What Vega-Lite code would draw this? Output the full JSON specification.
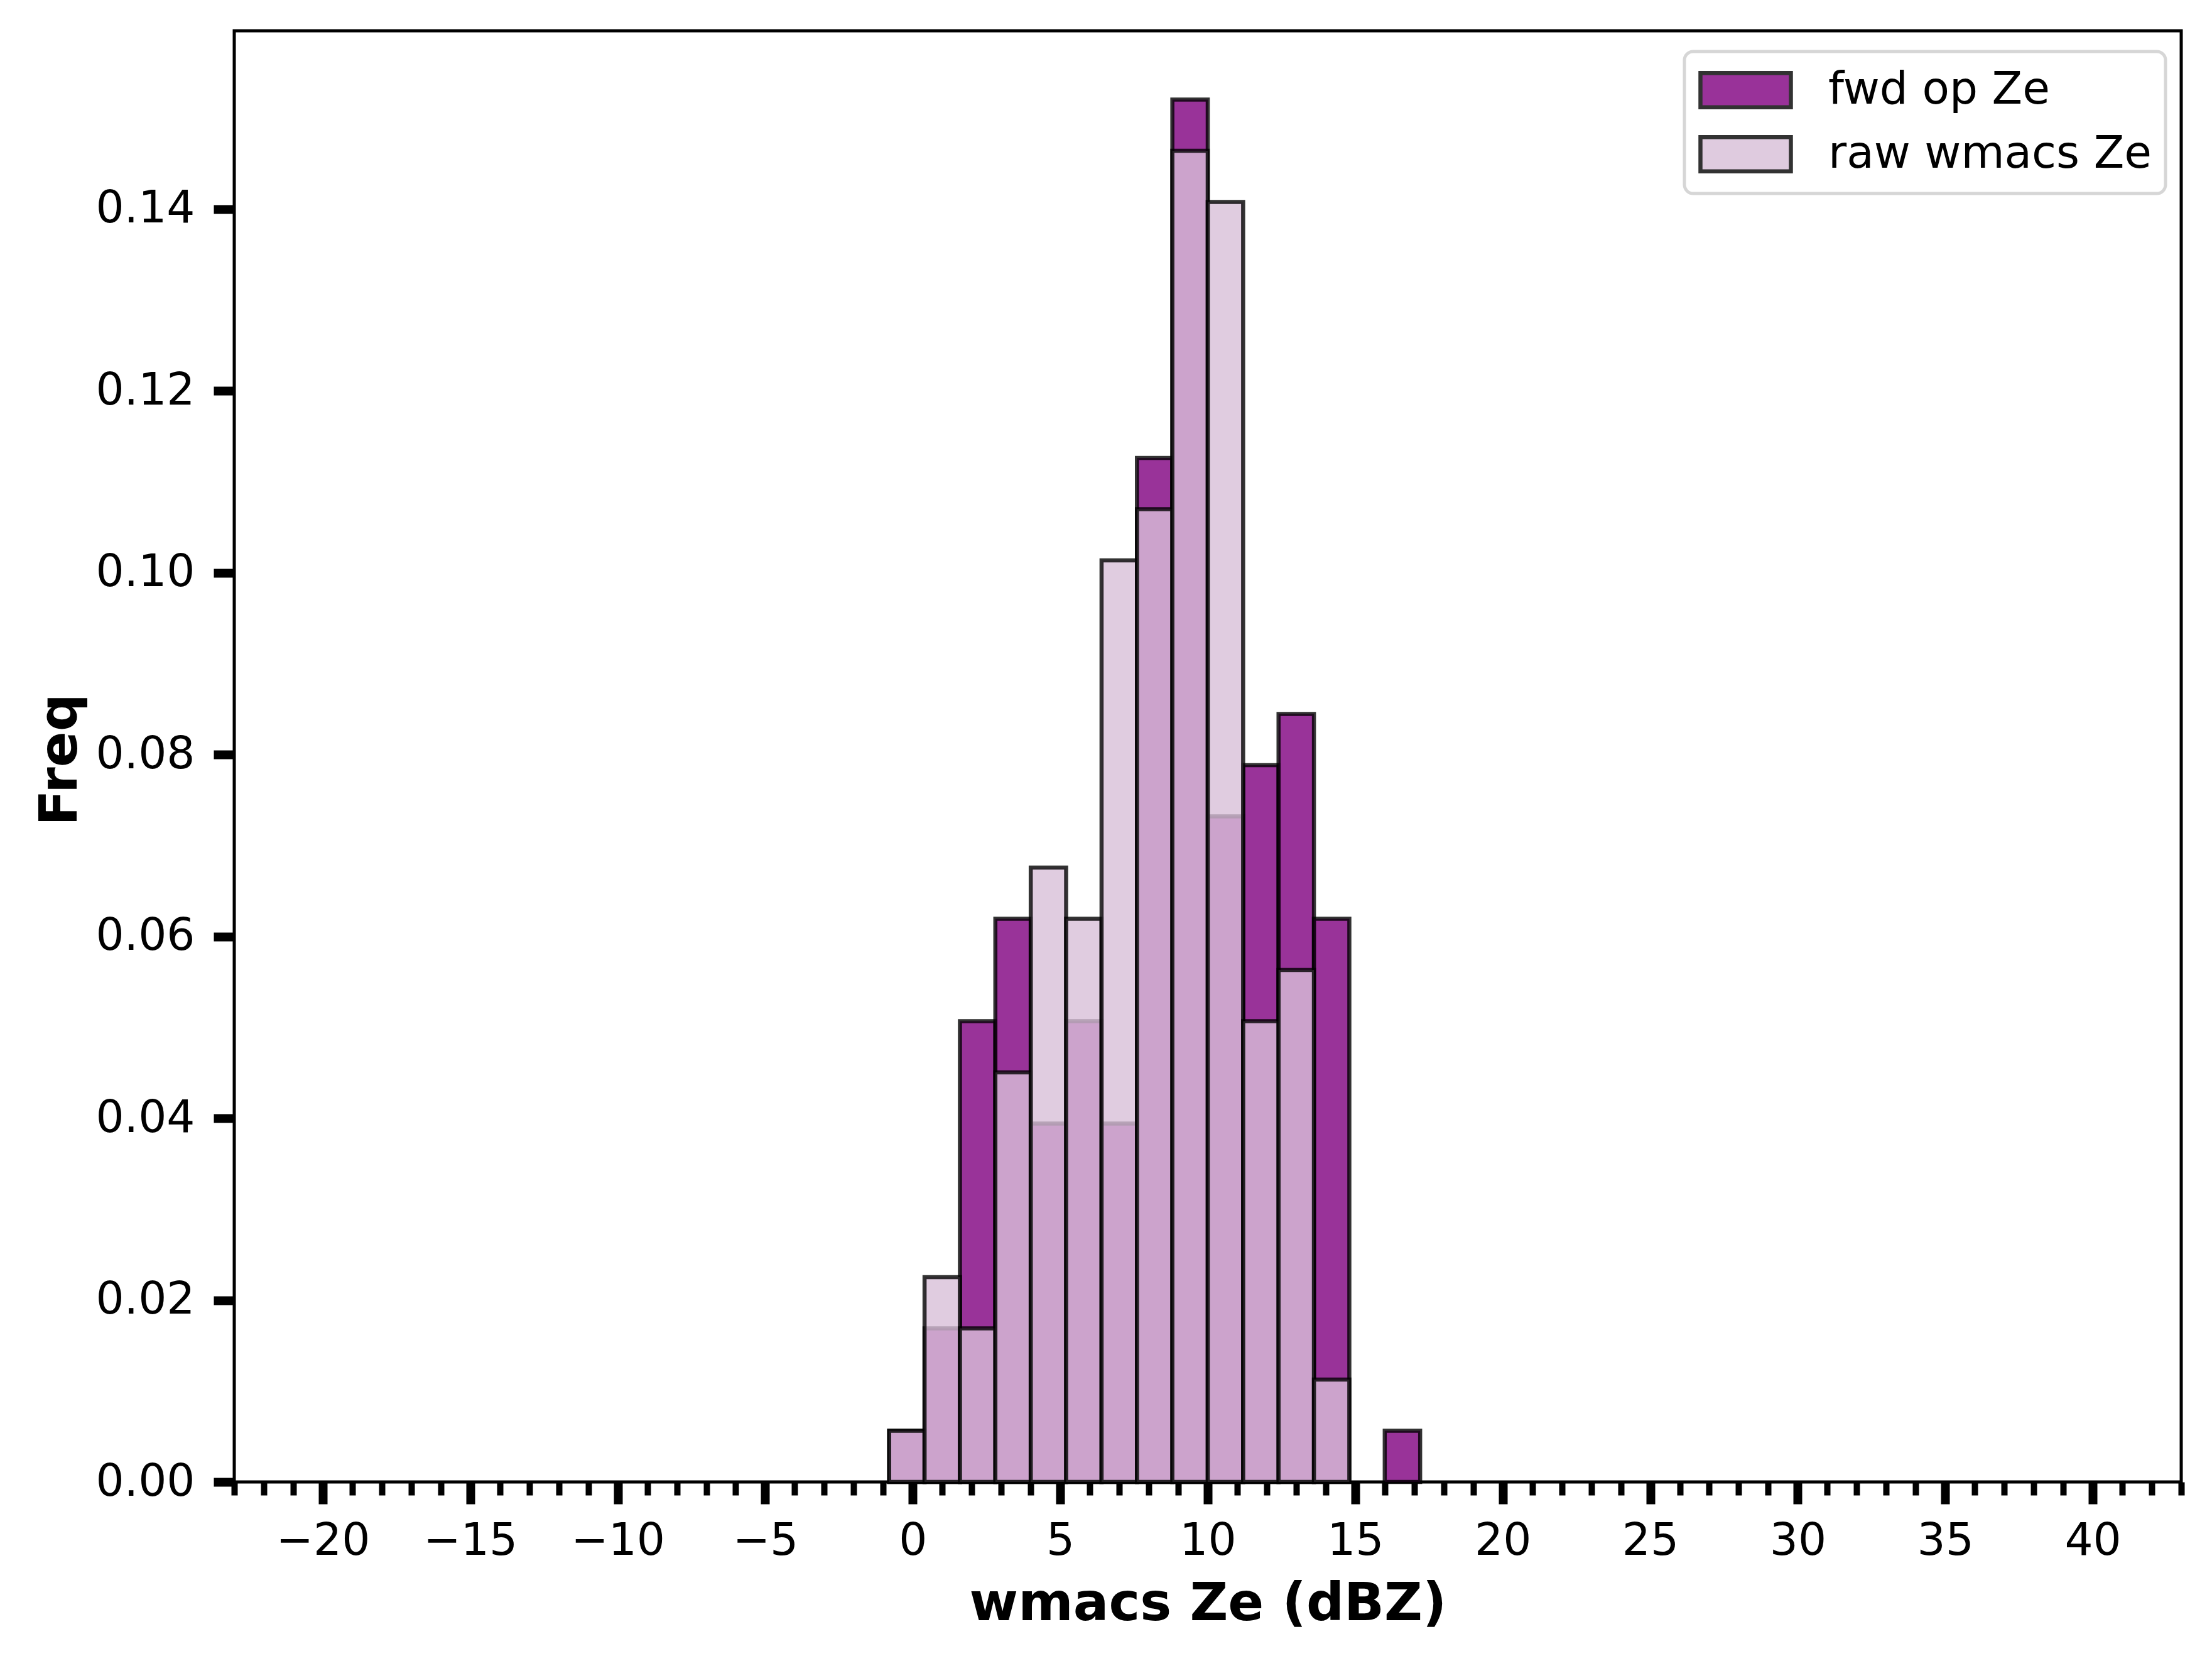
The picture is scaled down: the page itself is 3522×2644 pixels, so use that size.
{
  "$schema": "https://vega.github.io/schema/vega-lite/v6.json",
  "description": "Histogram of fwd op Ze vs raw wmacs Ze",
  "autosize": "none",
  "width": 3100,
  "height": 2310,
  "padding": {"left": 373, "top": 49, "right": 49, "bottom": 285},
  "background": "white",
  "config": {
    "font": "DejaVu Sans",
    "view": {"stroke": "black", "strokeWidth": 5},
    "axis": {
      "grid": false,
      "domain": false,
      "labelFont": "DejaVu Sans",
      "labelFontSize": 71,
      "labelColor": "black",
      "tickColor": "black",
      "titleFont": "DejaVu Sans",
      "titleFontSize": 84,
      "titleFontWeight": "bold",
      "titleColor": "black"
    }
  },
  "data": {
    "values": [
      {"s": "fwd op Ze", "x0": -0.8, "x1": 0.4, "f": 0.00563},
      {"s": "fwd op Ze", "x0": 0.4, "x1": 1.6, "f": 0.01689},
      {"s": "fwd op Ze", "x0": 1.6, "x1": 2.8, "f": 0.05068},
      {"s": "fwd op Ze", "x0": 2.8, "x1": 4.0, "f": 0.06194},
      {"s": "fwd op Ze", "x0": 4.0, "x1": 5.2, "f": 0.03941},
      {"s": "fwd op Ze", "x0": 5.2, "x1": 6.4, "f": 0.05068},
      {"s": "fwd op Ze", "x0": 6.4, "x1": 7.6, "f": 0.03941},
      {"s": "fwd op Ze", "x0": 7.6, "x1": 8.8, "f": 0.11261},
      {"s": "fwd op Ze", "x0": 8.8, "x1": 10.0, "f": 0.15203},
      {"s": "fwd op Ze", "x0": 10.0, "x1": 11.2, "f": 0.0732},
      {"s": "fwd op Ze", "x0": 11.2, "x1": 12.4, "f": 0.07883},
      {"s": "fwd op Ze", "x0": 12.4, "x1": 13.6, "f": 0.08446},
      {"s": "fwd op Ze", "x0": 13.6, "x1": 14.8, "f": 0.06194},
      {"s": "fwd op Ze", "x0": 16.0, "x1": 17.2, "f": 0.00563},
      {"s": "raw wmacs Ze", "x0": -0.8, "x1": 0.4, "f": 0.00563},
      {"s": "raw wmacs Ze", "x0": 0.4, "x1": 1.6, "f": 0.02252},
      {"s": "raw wmacs Ze", "x0": 1.6, "x1": 2.8, "f": 0.01689},
      {"s": "raw wmacs Ze", "x0": 2.8, "x1": 4.0, "f": 0.04505},
      {"s": "raw wmacs Ze", "x0": 4.0, "x1": 5.2, "f": 0.06757},
      {"s": "raw wmacs Ze", "x0": 5.2, "x1": 6.4, "f": 0.06194},
      {"s": "raw wmacs Ze", "x0": 6.4, "x1": 7.6, "f": 0.10135},
      {"s": "raw wmacs Ze", "x0": 7.6, "x1": 8.8, "f": 0.10698},
      {"s": "raw wmacs Ze", "x0": 8.8, "x1": 10.0, "f": 0.1464},
      {"s": "raw wmacs Ze", "x0": 10.0, "x1": 11.2, "f": 0.14077},
      {"s": "raw wmacs Ze", "x0": 11.2, "x1": 12.4, "f": 0.05068},
      {"s": "raw wmacs Ze", "x0": 12.4, "x1": 13.6, "f": 0.05631},
      {"s": "raw wmacs Ze", "x0": 13.6, "x1": 14.8, "f": 0.01126}
    ]
  },
  "encoding": {
    "x2": {"field": "x1"},
    "y2": {"datum": 0},
    "y": {
      "field": "f",
      "type": "quantitative",
      "scale": {"domain": [0, 0.1596], "nice": false},
      "axis": {
        "values": [0, 0.02, 0.04, 0.06, 0.08, 0.1, 0.12, 0.14],
        "format": ".2f",
        "tickSize": 33,
        "tickWidth": 14,
        "labelPadding": 30,
        "title": "Freq",
        "titleX": -277,
        "titleY": 1160,
        "titleBaseline": "middle",
        "titleAngle": 270
      }
    },
    "fill": {
      "field": "s",
      "type": "nominal",
      "scale": {"domain": ["fwd op Ze", "raw wmacs Ze"], "range": ["#800080", "#d8bfd8"]},
      "legend": {
        "title": null,
        "orient": "none",
        "legendX": 2309,
        "legendY": 33,
        "symbolType": "M-1,-0.76H3V0.76H-1Z",
        "symbolSize": 5184,
        "symbolStrokeColor": "black",
        "symbolStrokeWidth": 6.5,
        "symbolOpacity": 0.8,
        "labelFont": "DejaVu Sans",
        "labelFontSize": 71,
        "labelColor": "black",
        "labelLimit": 2000,
        "labelOffset": 128,
        "rowPadding": 21,
        "padding": 22,
        "strokeColor": "#d6d6d6",
        "cornerRadius": 14,
        "fillColor": "white",
        "encode": {"legend": {"update": {"strokeWidth": {"value": 5}}}}
      }
    }
  },
  "layer": [
    {
      "transform": [{"filter": "datum.s === 'fwd op Ze'"}],
      "mark": {"type": "rect", "fillOpacity": 0.8, "stroke": "black", "strokeOpacity": 0.8, "strokeWidth": 6.5},
      "encoding": {
        "x": {
          "field": "x0",
          "type": "quantitative",
          "scale": {"domain": [-23, 43], "nice": false},
          "axis": {
            "orient": "bottom",
            "values": [-20, -15, -10, -5, 0, 5, 10, 15, 20, 25, 30, 35, 40],
            "format": "d",
            "tickSize": 35,
            "tickWidth": 14,
            "labelPadding": 24,
            "labelBaseline": "top",
            "labelFlush": false,
            "labelOverlap": false,
            "title": "wmacs Ze (dBZ)",
            "titleBaseline": "alphabetic",
            "titleY": 219
          }
        }
      }
    },
    {
      "transform": [{"filter": "datum.s === 'raw wmacs Ze'"}],
      "mark": {"type": "rect", "fillOpacity": 0.8, "stroke": "black", "strokeOpacity": 0.8, "strokeWidth": 6.5},
      "encoding": {
        "x": {
          "field": "x0",
          "type": "quantitative",
          "axis": {
            "orient": "bottom",
            "values": [-23, -22, -21, -19, -18, -17, -16, -14, -13, -12, -11, -9, -8, -7, -6, -4, -3, -2, -1, 1, 2, 3, 4, 6, 7, 8, 9, 11, 12, 13, 14, 16, 17, 18, 19, 21, 22, 23, 24, 26, 27, 28, 29, 31, 32, 33, 34, 36, 37, 38, 39, 41, 42, 43],
            "tickSize": 21,
            "tickWidth": 10,
            "labels": false,
            "title": null
          }
        }
      }
    }
  ],
  "resolve": {"axis": {"x": "independent"}}
}
